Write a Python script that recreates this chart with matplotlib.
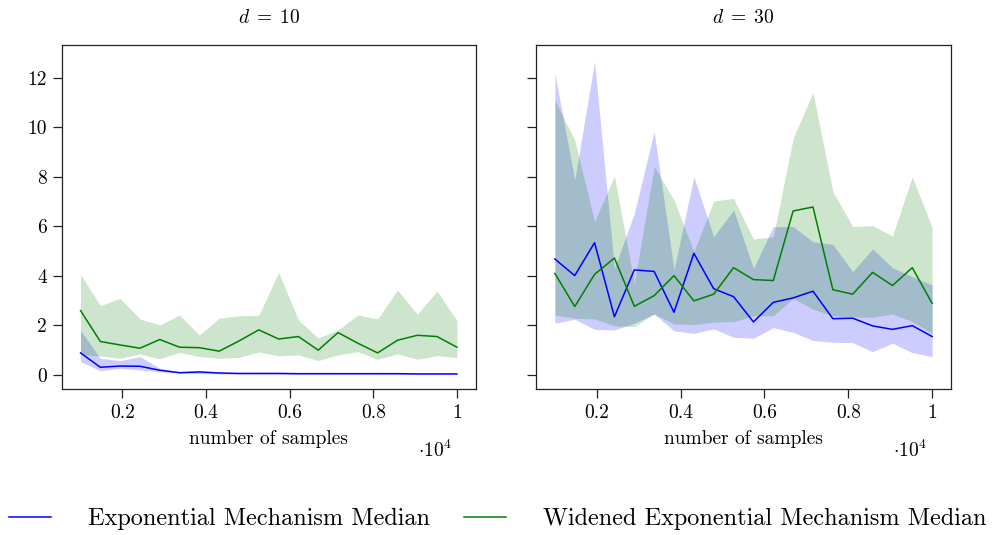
import matplotlib
matplotlib.use("Agg")
import matplotlib.pyplot as plt
import numpy as np

plt.rcParams['font.family'] = ['cmr10', 'DejaVu Serif']
plt.rcParams['mathtext.fontset'] = 'cm'
plt.rcParams['axes.unicode_minus'] = False
plt.rcParams['axes.formatter.use_mathtext'] = True

# number of samples
samples = [1000, 1474, 1947, 2421, 2895, 3368, 3842, 4316, 4789, 5263,
           5737, 6211, 6684, 7158, 7632, 8105, 8579, 9053, 9526, 10000]

# d = 10
d10_exp_med = [0.89, 0.31, 0.36, 0.35, 0.19, 0.09, 0.12, 0.08, 0.06, 0.06,
               0.06, 0.05, 0.05, 0.05, 0.05, 0.05, 0.05, 0.04, 0.04, 0.04]
d10_exp_lo = [0.54, 0.17, 0.27, 0.20, 0.13, 0.07, 0.05, 0.04, 0.03, 0.03,
              0.03, 0.03, 0.03, 0.03, 0.03, 0.03, 0.03, 0.03, 0.03, 0.03]
d10_exp_hi = [1.80, 0.67, 0.58, 0.74, 0.27, 0.13, 0.17, 0.11, 0.08, 0.07,
              0.07, 0.07, 0.07, 0.07, 0.07, 0.07, 0.07, 0.06, 0.06, 0.06]
d10_wid_med = [2.60, 1.35, 1.21, 1.08, 1.43, 1.12, 1.10, 0.96, 1.37, 1.82,
               1.45, 1.55, 1.00, 1.71, 1.28, 0.89, 1.40, 1.60, 1.55, 1.12]
d10_wid_lo = [0.82, 0.77, 0.67, 0.85, 0.65, 0.91, 0.74, 0.67, 0.71, 0.93,
              0.77, 0.81, 0.58, 0.81, 0.94, 0.63, 0.85, 0.63, 0.78, 0.70]
d10_wid_hi = [4.06, 2.80, 3.09, 2.26, 2.02, 2.42, 1.61, 2.29, 2.39, 2.41,
              4.14, 2.22, 1.49, 1.82, 2.42, 2.26, 3.43, 2.45, 3.39, 2.19]

# d = 30
d30_exp_med = [4.68, 4.01, 5.34, 2.35, 4.24, 4.18, 2.53, 4.91, 3.48, 3.16,
               2.14, 2.93, 3.11, 3.38, 2.27, 2.29, 1.98, 1.84, 1.99, 1.55]
d30_exp_lo = [2.09, 2.25, 1.84, 1.82, 2.09, 2.46, 1.78, 1.68, 1.86, 1.52,
              1.48, 1.91, 1.72, 1.39, 1.32, 1.30, 0.94, 1.28, 0.90, 0.74]
d30_exp_hi = [12.17, 7.87, 12.65, 4.30, 6.52, 9.82, 4.24, 8.00, 5.58, 6.66,
              4.30, 5.99, 5.99, 5.38, 5.27, 4.17, 5.09, 4.33, 3.97, 3.63]
d30_wid_med = [4.10, 2.76, 4.06, 4.72, 2.77, 3.20, 4.01, 2.99, 3.26, 4.33,
               3.85, 3.81, 6.62, 6.78, 3.44, 3.26, 4.14, 3.61, 4.33, 2.89]
d30_wid_lo = [2.42, 2.29, 2.26, 1.98, 1.95, 2.46, 2.06, 2.03, 2.13, 2.15,
              2.39, 2.39, 3.09, 2.65, 2.39, 2.33, 2.33, 2.46, 2.15, 1.68]
d30_wid_hi = [11.10, 9.48, 6.19, 8.03, 3.70, 8.41, 7.06, 4.98, 7.02, 7.13,
              5.49, 5.58, 9.55, 11.40, 7.40, 5.99, 6.03, 5.61, 8.00, 5.95]

titles = [r'$d \;=\; 10$', r'$d \;=\; 30$']
xtick_vals = [0.2, 0.4, 0.6, 0.8, 1.0]
xtick_labels = ['0.2', '0.4', '0.6', '0.8', '1']
ytick_vals = [0, 2, 4, 6, 8, 10, 12]
labels = ['Exponential Mechanism Median', 'Widened Exponential Mechanism Median']

BLUE = (0, 0, 1)
GREEN = (0, 0.5, 0)

fig = plt.figure(figsize=(9.95, 5.35), dpi=100)
W, H = 995, 535
axes = [fig.add_axes([61.7 / W, 1 - 389.3 / H, 414 / W, 344.3 / H]),
        fig.add_axes([536 / W, 1 - 389.3 / H, 415 / W, 344.3 / H])]

data = [
    (d10_exp_med, d10_exp_lo, d10_exp_hi, d10_wid_med, d10_wid_lo, d10_wid_hi),
    (d30_exp_med, d30_exp_lo, d30_exp_hi, d30_wid_med, d30_wid_lo, d30_wid_hi),
]

x = np.array(samples) / 1e4
handles = []
for i, (ax, dset) in enumerate(zip(axes, data)):
    em, el, eh, wm, wl, wh = dset
    ax.fill_between(x, el, eh, color=BLUE, alpha=0.2, linewidth=0)
    ax.fill_between(x, wl, wh, color=GREEN, alpha=0.2, linewidth=0)
    h1, = ax.plot(x, em, color=BLUE, lw=1.1)
    h2, = ax.plot(x, wm, color=GREEN, lw=1.1)
    handles = [h1, h2]
    ax.set_xlim(0.055, 1.045)
    ax.set_ylim(-0.58, 13.32)
    ax.set_xticks(xtick_vals)
    ax.set_xticklabels(xtick_labels)
    ax.set_yticks(ytick_vals)
    if i == 0:
        ax.set_yticklabels([str(v) for v in ytick_vals])
    else:
        ax.set_yticklabels([])
    ax.tick_params(direction='out', length=6.5, width=0.9, labelsize=14,
                   colors='#222222', labelcolor='black', pad=4)
    for sp in ax.spines.values():
        sp.set_linewidth(0.9)
        sp.set_color('#222222')
    ax.set_title(titles[i], fontsize=14, pad=16)
    ax.set_xlabel('number of samples', fontsize=14, labelpad=6)
    ax.text(0.943, -0.176, r'$\cdot 10^4$', transform=ax.transAxes,
            ha='right', va='center', fontsize=14)

fig.legend(handles, labels, loc='center', bbox_to_anchor=(0.5, 1 - 519 / H),
           ncol=2, frameon=False, fontsize=17.5, handlelength=1.75,
           handletextpad=1.5, columnspacing=1.4)

fig.savefig('out.png', dpi=100)
